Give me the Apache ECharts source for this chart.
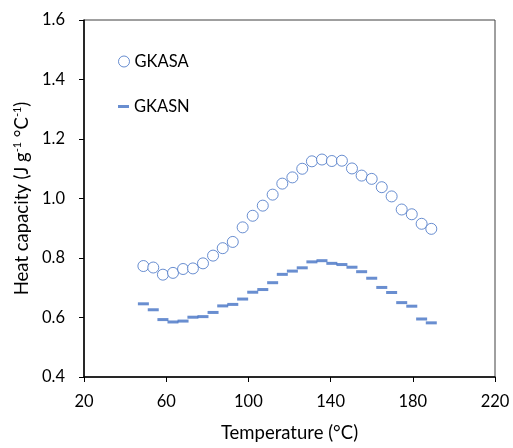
<!DOCTYPE html>
<html>
<head>
<meta charset="utf-8">
<script src="https://cdn.jsdelivr.net/npm/echarts@6/dist/echarts.min.js"></script>
<style>html,body{margin:0;padding:0;background:#fff}#c{width:513px;height:448px}</style>
</head>
<body>
<div id="c"></div>
<script>
var temperature = [48.9, 53.7, 58.4, 63.3, 68.2, 73.0, 77.9, 82.8, 87.5, 92.4, 97.2, 102.1, 107.0, 111.8, 116.5, 121.4, 126.2, 130.9, 135.8, 140.6, 145.5, 150.4, 155.1, 160.0, 164.9, 169.7, 174.6, 179.5, 184.3, 189.0];
var gkasa = [0.773, 0.768, 0.744, 0.750, 0.763, 0.765, 0.782, 0.808, 0.833, 0.854, 0.903, 0.942, 0.976, 1.013, 1.050, 1.071, 1.100, 1.125, 1.131, 1.126, 1.127, 1.101, 1.077, 1.066, 1.038, 1.007, 0.963, 0.947, 0.915, 0.898];
var gkasn = [0.646, 0.626, 0.593, 0.585, 0.588, 0.601, 0.603, 0.617, 0.639, 0.644, 0.662, 0.685, 0.694, 0.717, 0.745, 0.756, 0.767, 0.787, 0.791, 0.782, 0.778, 0.769, 0.754, 0.732, 0.701, 0.684, 0.650, 0.638, 0.595, 0.582];
var xTicks = {min: 20, max: 220, interval: 40};
var yTicks = {min: 0.4, max: 1.6, interval: 0.2};

function pairs(xs, ys) { return xs.map(function (x, i) { return [x, ys[i]]; }); }
var blue = '#4472C4';
var font = 'Lato, "Open Sans", sans-serif';
var chart = echarts.init(document.getElementById('c'), null, {renderer: 'canvas'});
chart.setOption({
  animation: false,
  backgroundColor: '#fff',
  grid: {left: 84, right: 18, top: 20, bottom: 70, show: true, borderColor: '#404040', borderWidth: 1, backgroundColor: 'transparent'},
  legend: [
    {data: [{name: 'GKASA', icon: 'circle'}], left: 113, top: 48, itemWidth: 11, itemHeight: 11,
     textStyle: {fontFamily: font, fontSize: 16.5, color: '#000'},
     itemStyle: {color: '#fff', borderColor: blue, borderWidth: 1}},
    {data: [{name: 'GKASN', icon: 'rect'}], left: 113, top: 93, itemWidth: 11, itemHeight: 3,
     textStyle: {fontFamily: font, fontSize: 16.5, color: '#000'}}
  ],
  xAxis: {
    type: 'value', min: xTicks.min, max: xTicks.max, interval: xTicks.interval,
    name: 'Temperature (°C)', nameLocation: 'middle', nameGap: 47,
    nameTextStyle: {fontFamily: font, fontSize: 18.5, color: '#000'},
    axisLine: {show: true, lineStyle: {color: '#000', width: 1.5}},
    axisTick: {show: true, length: 5, lineStyle: {color: '#000'}},
    axisLabel: {fontFamily: font, fontSize: 16.5, color: '#000', margin: 16},
    splitLine: {show: false}
  },
  yAxis: {
    type: 'value', min: yTicks.min, max: yTicks.max, interval: yTicks.interval,
    name: 'Heat capacity (J g{sup|-1} °C{sup|-1})', nameLocation: 'middle', nameGap: 50,
    nameTextStyle: {fontFamily: font, fontSize: 18.5, color: '#000',
      rich: {sup: {fontFamily: font, fontSize: 11, color: '#000', verticalAlign: 'top', padding: [0, 0, 9, 0]}}},
    axisLine: {show: true, lineStyle: {color: '#000', width: 1.5}},
    axisTick: {show: true, length: 5, lineStyle: {color: '#000'}},
    axisLabel: {fontFamily: font, fontSize: 16.5, color: '#000', margin: 19,
      formatter: function (v) { return v.toFixed(1); }},
    splitLine: {show: false}
  },
  series: [
    {name: 'GKASA', type: 'scatter', data: pairs(temperature, gkasa), symbol: 'circle', symbolSize: 11,
     itemStyle: {color: '#fff', borderColor: blue, borderWidth: 1}},
    {name: 'GKASN', type: 'scatter', data: pairs(temperature, gkasn), symbol: 'rect', symbolSize: [11, 3],
     itemStyle: {color: blue}}
  ]
});
</script>
</body>
</html>
